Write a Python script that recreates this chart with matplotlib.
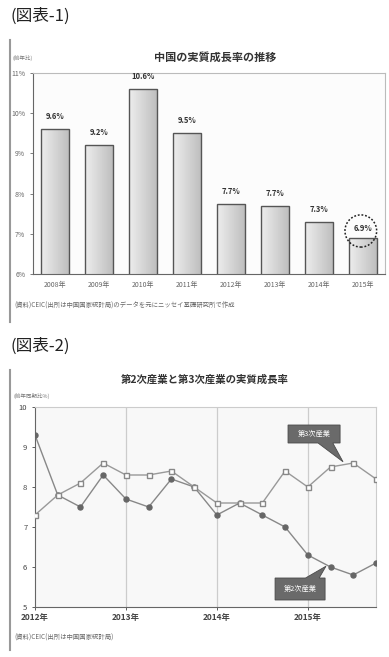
# Two Japanese charts: annual growth bars and quarterly industry growth lines

import matplotlib
matplotlib.use('Agg')
import matplotlib.pyplot as plt
import matplotlib.patches as mpatches
import numpy as np

plt.rcParams['font.family'] = ['Noto Sans CJK JP', 'DejaVu Sans']

# chart 1 data
years = ['2008年', '2009年', '2010年', '2011年', '2012年', '2013年', '2014年', '2015年']
growth = [9.6, 9.2, 10.6, 9.5, 7.75, 7.7, 7.3, 6.9]
growth_labels = ['9.6%', '9.2%', '10.6%', '9.5%', '7.7%', '7.7%', '7.3%', '6.9%']
y1_ticks = [6, 7, 8, 9, 10, 11]

# chart 2 data (quarterly, 2012Q1 - 2015Q4)
quarters = list(range(16))
secondary = [9.3, 7.8, 7.5, 8.3, 7.7, 7.5, 8.2, 8.0, 7.3, 7.6, 7.3, 7.0, 6.3, 6.0, 5.8, 6.1]
tertiary = [7.3, 7.8, 8.1, 8.6, 8.3, 8.3, 8.4, 8.0, 7.6, 7.6, 7.6, 8.4, 8.0, 8.5, 8.6, 8.2]
year_ticks = [0, 4, 8, 12]
year_labels = ['2012年', '2013年', '2014年', '2015年']

W, H = 389, 657
fig = plt.figure(figsize=(W / 100, H / 100), dpi=100)
fig.patch.set_facecolor('white')


def px_axes(left, top, right, bottom):
    return fig.add_axes([left / W, 1 - bottom / H, (right - left) / W, (bottom - top) / H])


def fx(x):
    return x / W


def fy(y):
    return 1 - y / H


def callout(ax, box, base, tip, text):
    # box = (x0, y0, x1, y1); base = (xa, xb, y); tip = (x, y) in data units
    x0, y0, x1, y1 = box
    xa, xb, yb = base
    if tip[1] < y0:
        pts = [(x0, y0), (x0, y1), (x1, y1), (x1, y0), (xb, y0), tip, (xa, y0)]
    else:
        pts = [(x0, y0), (x0, y1), (xa, y1), tip, (xb, y1), (x1, y1), (x1, y0)]
    ax.add_patch(mpatches.Polygon(pts, closed=True, fc='#6a6a6a', ec='#4a4a4a', lw=0.6, zorder=6))
    ax.text((x0 + x1) / 2, (y0 + y1) / 2, text, color='white', fontsize=5.2,
            ha='center', va='center', zorder=7)


# ---- chart 1 ----
fig.text(fx(10), fy(16), '(図表-1)', fontsize=12, va='center', ha='left', color='#222222')
fig.add_artist(plt.Line2D([fx(10), fx(10)], [fy(40), fy(322)], color='#999999', lw=1.5))
fig.text(fx(215), fy(57), '中国の実質成長率の推移', fontsize=8, fontweight='bold',
         ha='center', va='center', color='#333333')
fig.text(fx(13), fy(58), '(前年比)', fontsize=4, ha='left', va='center', color='#777777')

ax1 = px_axes(33, 73, 385, 274)
ax1.set_facecolor('#fcfcfc')
bars = ax1.bar(range(len(growth)), growth, width=0.64, color='none',
               edgecolor='#555555', linewidth=1.0, zorder=3)
grad = np.linspace(0.93, 0.74, 64).reshape(1, -1)
for b in bars:
    x0 = b.get_x()
    img = ax1.imshow(grad, cmap='gray', vmin=0, vmax=1, aspect='auto',
                     extent=[x0, x0 + b.get_width(), 6, b.get_height()], zorder=2)
    img.set_clip_path(b)
for i, (v, lab) in enumerate(zip(growth, growth_labels)):
    off = 0.12 if i == len(growth) - 1 else 0.2
    ax1.text(i, v + off, lab, ha='center', va='bottom', fontsize=5.5,
             fontweight='bold', color='#333333', zorder=5)
circ = mpatches.Ellipse((6.95, 7.07), 0.72, 0.8, fill=False, linestyle=(0, (1.2, 1.2)),
                        edgecolor='#222222', linewidth=1.1, zorder=6)
ax1.add_patch(circ)
ax1.set_xlim(-0.5, 7.5)
ax1.set_ylim(6, 11)
ax1.set_yticks(y1_ticks)
ax1.set_yticklabels([f'{t}%' for t in y1_ticks])
ax1.set_xticks(range(len(years)))
ax1.set_xticklabels(years)
ax1.tick_params(axis='both', labelsize=5, colors='#666666', length=2, width=0.6)
ax1.tick_params(axis='x', length=0, pad=5)
for s in ax1.spines.values():
    s.set_color('#bbbbbb')
    s.set_linewidth(0.8)
ax1.spines['left'].set_color('#666666')
ax1.spines['bottom'].set_color('#666666')
fig.text(fx(14), fy(306), '(資料)CEIC(出所は中国国家統計局)のデータを元にニッセイ基礎研究所で作成',
         fontsize=4.6, ha='left', va='center', color='#666666')

# ---- chart 2 ----
fig.text(fx(10), fy(346), '(図表-2)', fontsize=12, va='center', ha='left', color='#222222')
fig.add_artist(plt.Line2D([fx(10), fx(10)], [fy(370), fy(650)], color='#999999', lw=1.5))
fig.text(fx(205), fy(380), '第2次産業と第3次産業の実質成長率', fontsize=7.5, fontweight='bold',
         ha='center', va='center', color='#333333')
fig.text(fx(14), fy(396), '(前年同期比%)', fontsize=4, ha='left', va='center', color='#777777')

ax2 = px_axes(35, 407, 376, 607)
ax2.set_facecolor('#f8f8f8')
for t in year_ticks[1:]:
    ax2.axvline(t, color='#cccccc', linewidth=0.9, zorder=1)
ax2.plot(quarters, secondary, color='#888888', linewidth=1.0, marker='o', markersize=3.6,
         markerfacecolor='#666666', markeredgecolor='#666666', zorder=3)
ax2.plot(quarters, tertiary, color='#999999', linewidth=1.0, marker='s', markersize=3.6,
         markerfacecolor='white', markeredgecolor='#888888', zorder=4)
ax2.set_xlim(0, 15)
ax2.set_ylim(5, 10)
ax2.set_yticks([5, 6, 7, 8, 9, 10])
ax2.set_xticks(year_ticks)
ax2.set_xticklabels(year_labels, fontweight='bold')
ax2.tick_params(axis='y', labelsize=5.5, colors='#444444', length=2, width=0.6)
ax2.tick_params(axis='x', labelsize=6, colors='#444444', length=2, width=0.6, pad=2)
for s in ax2.spines.values():
    s.set_color('#cccccc')
    s.set_linewidth(0.8)
ax2.spines['left'].set_color('#666666')
ax2.spines['bottom'].set_color('#666666')

# callouts
callout(ax2, (11.13, 9.1, 13.42, 9.55), (12.45, 13.1, 9.1), (13.55, 8.63), '第3次産業')
callout(ax2, (10.56, 5.175, 12.76, 5.725), (11.9, 12.5, 5.725), (12.8, 6.02), '第2次産業')

fig.text(fx(14), fy(638), '(資料)CEIC(出所は中国国家統計局)', fontsize=4.6, ha='left',
         va='center', color='#666666')

fig.savefig('out.png', dpi=100)
